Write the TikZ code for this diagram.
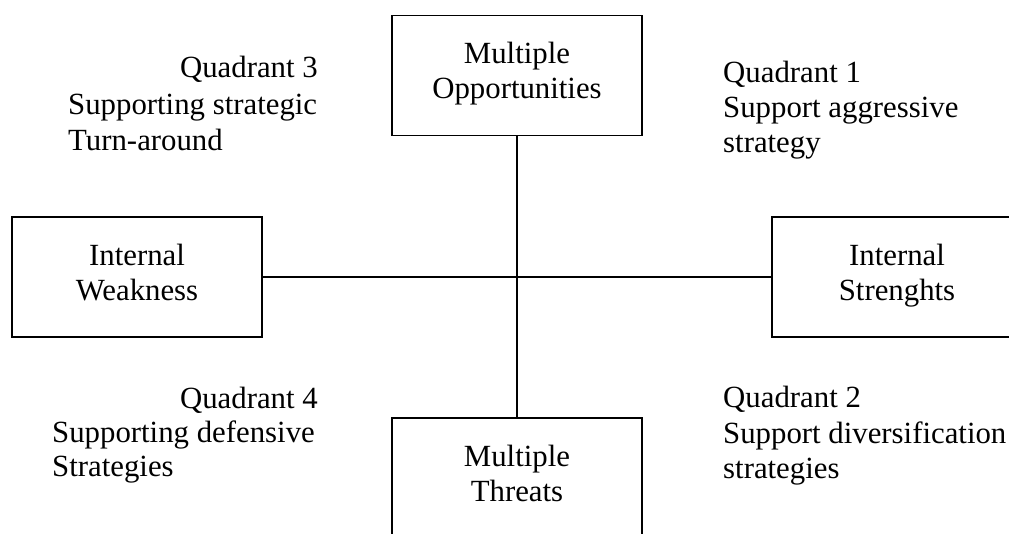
\documentclass[tikz,border=0pt]{standalone}
\usepackage{fontspec}
\setmainfont{Liberation Serif}
\begin{document}
\begin{tikzpicture}[x=1pt,y=-1pt,
  box/.style={draw, line width=1.4pt, minimum width=250pt, minimum height=120pt,
    inner sep=0pt, align=center, text depth=10pt, font=\fontsize{30.8}{35}\selectfont},
  qtext/.style={inner sep=0pt, font=\fontsize{30.8}{35}\selectfont},
  link/.style={line width=1.4pt}]
\useasboundingbox (0,0) rectangle (1009,533);
\clip (0,0) rectangle (1009,533);
% boxes
\node[box] (opp) at (517,75.5) {Multiple\\Opportunities};
\node[box] (weak) at (137,277) {Internal\\Weakness};
\node[box] (str) at (897,277) {Internal\\Strenghts};
\node[box] (thr) at (517,478) {Multiple\\Threats};
% connectors
\draw[link] (opp.south) -- (thr.north);
\draw[link] (weak.east) -- (str.west);
% quadrant 3
\node[qtext, anchor=base east] (q3a) at (318,77) {Quadrant 3};
\node[qtext, anchor=base west] (q3b) at (68,114) {Supporting strategic};
\node[qtext, anchor=base west] (q3c) at (68,150) {Turn-around};
% quadrant 1
\node[qtext, anchor=base west] (q1a) at (723,82) {Quadrant 1};
\node[qtext, anchor=base west] (q1b) at (723,117) {Support aggressive};
\node[qtext, anchor=base west] (q1c) at (723,152) {strategy};
% quadrant 4
\node[qtext, anchor=base east] (q4a) at (318,408) {Quadrant 4};
\node[qtext, anchor=base west] (q4b) at (52,442) {Supporting defensive};
\node[qtext, anchor=base west] (q4c) at (52,476) {Strategies};
% quadrant 2
\node[qtext, anchor=base west] (q2a) at (723,407) {Quadrant 2};
\node[qtext, anchor=base west] (q2b) at (723,443) {Support diversification};
\node[qtext, anchor=base west] (q2c) at (723,478) {strategies};
\end{tikzpicture}
\end{document}
